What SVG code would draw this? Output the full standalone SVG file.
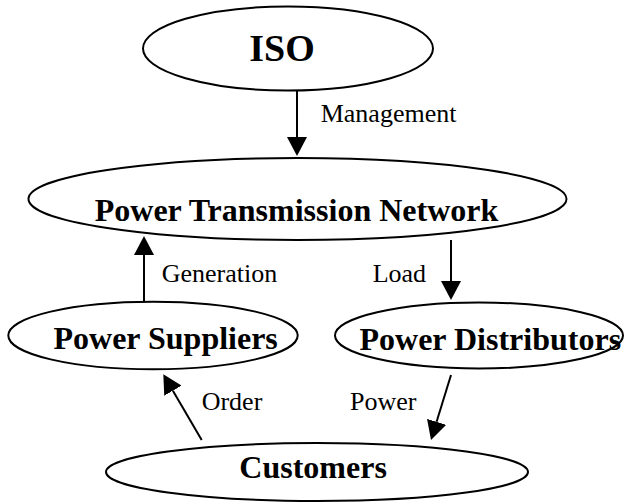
<svg xmlns="http://www.w3.org/2000/svg" width="624" height="502" viewBox="0 0 624 502">
<defs>
<style>
.node ellipse{fill:#fff;stroke:#000;stroke-width:2}
.nt{font-family:"Liberation Serif","Times New Roman",serif;font-weight:bold;font-size:32px;fill:#000}
.lbl{font-family:"Liberation Serif","Times New Roman",serif;font-size:26px;fill:#000}
.edge{stroke:#000;stroke-width:2;fill:none;marker-end:url(#ah)}
</style>
<marker id="ah" viewBox="0 -10 20 20" refX="0" refY="0" markerWidth="20" markerHeight="20" markerUnits="userSpaceOnUse" orient="auto">
<path d="M0,-10 L19,0 L0,10 z" fill="#000"/>
</marker>
</defs>
<rect width="624" height="502" fill="#fff"/>
<g id="iso" class="node">
<ellipse cx="288" cy="48.5" rx="145" ry="42"/>
<text class="nt" x="282" y="61" text-anchor="middle" style="font-size:38px">ISO</text>
</g>
<g id="ptn" class="node">
<ellipse cx="297.5" cy="199" rx="269" ry="41"/>
<text class="nt" x="296.5" y="221" text-anchor="middle">Power Transmission Network</text>
</g>
<g id="suppliers" class="node">
<ellipse cx="153" cy="335.5" rx="144.7" ry="33.8"/>
<text class="nt" x="53.5" y="349">Power Suppliers</text>
</g>
<g id="distributors" class="node">
<ellipse cx="479" cy="335.5" rx="144" ry="33"/>
<text class="nt" x="359.5" y="350">Power Distributors</text>
</g>
<g id="customers" class="node">
<ellipse cx="317" cy="472" rx="211" ry="29"/>
<text class="nt" x="239.3" y="478.3">Customers</text>
</g>
<g id="connectors">
<line class="edge" x1="297" y1="90.5" x2="297" y2="137"/>
<line class="edge" x1="144" y1="302" x2="144" y2="255"/>
<line class="edge" x1="451" y1="240" x2="451" y2="281"/>
<line class="edge" x1="451" y1="375" x2="436.6" y2="421.8"/>
<line class="edge" x1="201.7" y1="440" x2="172.9" y2="390.7"/>
<text class="lbl" x="320.7" y="121.7">Management</text>
<text class="lbl" x="161.7" y="281.7">Generation</text>
<text class="lbl" x="372.7" y="281.7">Load</text>
<text class="lbl" x="201.7" y="410">Order</text>
<text class="lbl" x="350" y="410">Power</text>
</g>
</svg>
